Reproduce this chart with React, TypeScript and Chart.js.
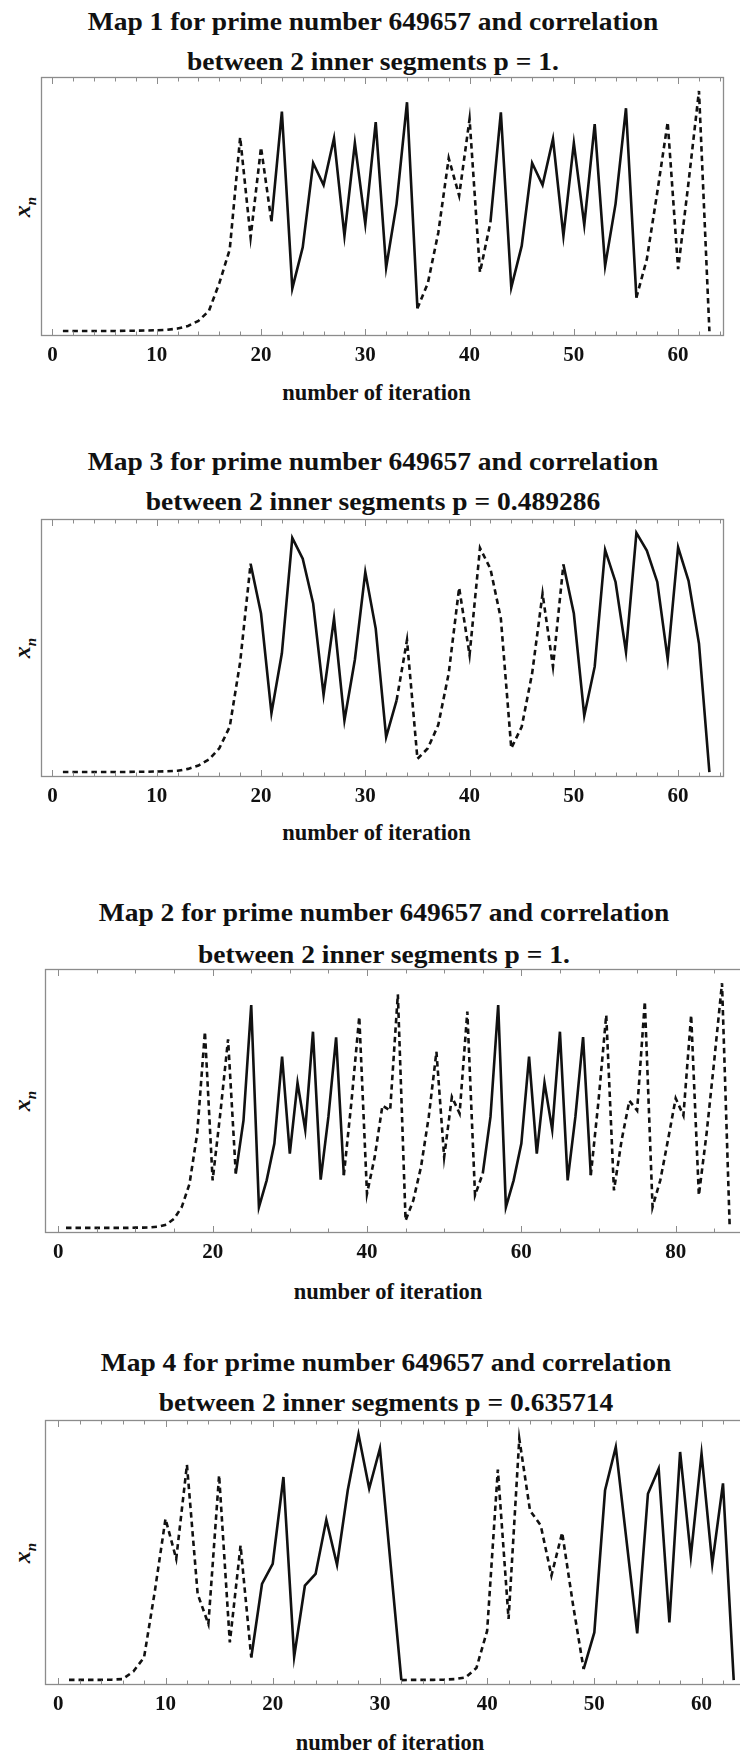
import React, { useEffect, useRef } from "react";
import { Chart, registerables } from "chart.js";

Chart.register(...registerables);

// ---------------- DATA ----------------
// Map 1 (iterations 1..63)
const MAP1_VALUES = [
  0.001, 0.001, 0.001, 0.001, 0.001, 0.001, 0.002, 0.002, 0.003, 0.004,
  0.006, 0.011, 0.022, 0.043, 0.084, 0.2, 0.34, 0.807, 0.39, 0.765,
  0.457, 0.914, 0.178, 0.349, 0.7, 0.608, 0.803, 0.397, 0.783, 0.446,
  0.87, 0.265, 0.53, 0.953, 0.095, 0.2, 0.41, 0.72, 0.564, 0.883,
  0.245, 0.453, 0.911, 0.182, 0.355, 0.7, 0.608, 0.8, 0.397, 0.783,
  0.442, 0.862, 0.272, 0.53, 0.928, 0.14, 0.3, 0.578, 0.87, 0.258,
  0.62, 1.0, 0.0,
];
const MAP1_SOLID = [[21, 35], [42, 56]];

// Map 3 (iterations 1..63)
const MAP3_VALUES = [
  0.001, 0.001, 0.001, 0.001, 0.001, 0.001, 0.001, 0.002, 0.002, 0.003,
  0.004, 0.006, 0.014, 0.028, 0.053, 0.1, 0.19, 0.46, 0.871, 0.663,
  0.247, 0.497, 0.979, 0.892, 0.705, 0.323, 0.642, 0.216, 0.47, 0.836,
  0.6, 0.147, 0.3, 0.552, 0.056, 0.1, 0.198, 0.413, 0.771, 0.49,
  0.937, 0.85, 0.642, 0.1, 0.19, 0.413, 0.746, 0.441, 0.868, 0.663,
  0.236, 0.441, 0.929, 0.795, 0.503, 1.0, 0.926, 0.795, 0.472, 0.94,
  0.8, 0.538, 0.0,
];
const MAP3_SOLID = [[19, 33], [49, 63]];

// Map 2 (iterations 1..87)
const MAP2_VALUES = [
  0.001, 0.001, 0.001, 0.001, 0.001, 0.001, 0.001, 0.001, 0.001, 0.002,
  0.002, 0.003, 0.006, 0.014, 0.038, 0.086, 0.18, 0.386, 0.802, 0.195,
  0.47, 0.771, 0.223, 0.44, 0.911, 0.086, 0.195, 0.345, 0.7, 0.304,
  0.593, 0.402, 0.802, 0.198, 0.454, 0.779, 0.216, 0.52, 0.863, 0.14,
  0.29, 0.5, 0.48, 0.955, 0.031, 0.113, 0.25, 0.454, 0.72, 0.29,
  0.536, 0.468, 0.884, 0.134, 0.223, 0.454, 0.911, 0.086, 0.195, 0.345,
  0.7, 0.304, 0.593, 0.402, 0.802, 0.195, 0.454, 0.78, 0.216, 0.52,
  0.87, 0.154, 0.36, 0.52, 0.48, 0.925, 0.086, 0.195, 0.36, 0.53,
  0.46, 0.87, 0.134, 0.386, 0.686, 1.0, 0.0,
];
const MAP2_SOLID = [[23, 37], [55, 69]];

// Map 4 (iterations 1..63)
const MAP4_VALUES = [
  0.001, 0.001, 0.001, 0.001, 0.002, 0.004, 0.035, 0.092, 0.36, 0.656,
  0.493, 0.876, 0.35, 0.228, 0.833, 0.153, 0.547, 0.092, 0.391, 0.473,
  0.826, 0.095, 0.384, 0.432, 0.652, 0.469, 0.772, 1.0, 0.779, 0.942,
  0.47, 0.0, 0.001, 0.001, 0.001, 0.002, 0.004, 0.011, 0.049, 0.2,
  0.856, 0.249, 0.982, 0.69, 0.629, 0.425, 0.6, 0.31, 0.045, 0.194,
  0.772, 0.948, 0.568, 0.19, 0.758, 0.86, 0.235, 0.928, 0.503, 0.921,
  0.473, 0.8, 0.0,
];
const MAP4_SOLID = [[18, 32], [49, 63]];

const TICKS_64 = [0, 10, 20, 30, 40, 50, 60];
const TICKS_88 = [0, 20, 40, 60, 80];

const TITLE_1 = ["Map 1 for prime number 649657 and correlation", "between 2 inner segments p = 1."];
const TITLE_3 = ["Map 3 for prime number 649657 and correlation", "between 2 inner segments p = 0.489286"];
const TITLE_2 = ["Map 2 for prime number 649657 and correlation", "between 2 inner segments p = 1."];
const TITLE_4 = ["Map 4 for prime number 649657 and correlation", "between 2 inner segments p = 0.635714"];

const X_LABEL = "number of iteration";

// ---------------- STYLE / LAYOUT ----------------
const SERIF = '"Liberation Serif", "Times New Roman", Times, serif';
const DASH = [5.5, 4];
const Y_MIN = -0.02;
const Y_MAX = 1.058;
const PAD_T = 6;
const AXIS_H = 72;
const TITLE_SHIFT = -10;
const XLABEL_SHIFT = -6;

type Panel = {
  title: string[];
  values: number[];
  solid: number[][];
  ticks: number[];
  minorStep: number;
  majorStep: number;
  xMin: number;
  xMax: number;
  left: number;
  right: number;
  top: number;
  bottom: number;
  titleY: number[];
  xLabelY: number;
  canvasW: number;
};

const PANELS: Panel[] = [
  { title: TITLE_1, values: MAP1_VALUES, solid: MAP1_SOLID, ticks: TICKS_64, minorStep: 2, majorStep: 10,
    xMin: -1.1, xMax: 64.4, left: 41, right: 724, top: 77, bottom: 336, titleY: [22, 62], xLabelY: 393, canvasW: 740 },
  { title: TITLE_3, values: MAP3_VALUES, solid: MAP3_SOLID, ticks: TICKS_64, minorStep: 2, majorStep: 10,
    xMin: -1.1, xMax: 64.4, left: 41, right: 724, top: 519, bottom: 777, titleY: [462, 502], xLabelY: 833, canvasW: 740 },
  { title: TITLE_2, values: MAP2_VALUES, solid: MAP2_SOLID, ticks: TICKS_88, minorStep: 5, majorStep: 20,
    xMin: -1.72, xMax: 88.72, left: 45, right: 743, top: 969, bottom: 1233, titleY: [913, 955], xLabelY: 1292, canvasW: 760 },
  { title: TITLE_4, values: MAP4_VALUES, solid: MAP4_SOLID, ticks: TICKS_64, minorStep: 2, majorStep: 10,
    xMin: -1.24, xMax: 64.24, left: 45, right: 747, top: 1420, bottom: 1685, titleY: [1363, 1403], xLabelY: 1743, canvasW: 760 },
];

function inSolid(ranges: number[][], x0: number, x1: number) {
  return ranges.some(([a, b]) => x0 >= a && x1 <= b);
}

const framePlugin = {
  id: "frameTicks",
  afterDatasetsDraw(chart: any, _args: any, opts: any) {
    const { ctx, chartArea: a } = chart;
    const xs = chart.scales.x;
    ctx.save();
    ctx.strokeStyle = "#8c8c8c";
    ctx.lineWidth = 1.3;
    ctx.strokeRect(a.left + 0.5, a.top + 0.5, a.right - a.left - 1, a.bottom - a.top - 1);
    ctx.lineWidth = 1;
    const step = opts.minorStep;
    const major = opts.majorStep;
    const start = Math.ceil(xs.min / step) * step;
    ctx.beginPath();
    for (let v = start; v <= xs.max + 1e-9; v += step) {
      const px = Math.round(xs.getPixelForValue(v)) + 0.5;
      const isMajor = Math.abs(v / major - Math.round(v / major)) < 1e-6;
      const len = isMajor ? 6 : 3.5;
      ctx.moveTo(px, a.top + 1);
      ctx.lineTo(px, a.top + 1 + len);
      ctx.moveTo(px, a.bottom - 1);
      ctx.lineTo(px, a.bottom - 1 - len);
    }
    ctx.stroke();
    ctx.restore();
  },
};

function MapPanel({ p }: { p: Panel }) {
  const ref = useRef<HTMLCanvasElement>(null);
  const canvasH = PAD_T + (p.bottom - p.top) + AXIS_H;

  useEffect(() => {
    if (!ref.current) return;
    const chart = new Chart(ref.current, {
      type: "line",
      data: {
        datasets: [
          {
            data: p.values.map((y, i) => ({ x: i + 1, y })),
            borderColor: "#111",
            borderWidth: 2.6,
            pointRadius: 0,
            tension: 0,
            fill: false,
            segment: {
              borderDash: (ctx: any) =>
                inSolid(p.solid, ctx.p0.parsed.x, ctx.p1.parsed.x) ? [] : DASH,
            },
          } as any,
        ],
      },
      options: {
        responsive: false,
        maintainAspectRatio: false,
        animation: false,
        events: [],
        layout: { padding: { left: p.left, right: p.canvasW - p.right, top: PAD_T, bottom: 0 } },
        plugins: {
          legend: { display: false },
          tooltip: { enabled: false },
          title: { display: false },
          frameTicks: { minorStep: p.minorStep, majorStep: p.majorStep },
        } as any,
        scales: {
          x: {
            type: "linear",
            min: p.xMin,
            max: p.xMax,
            afterBuildTicks: (s: any) => {
              s.ticks = p.ticks.map((v) => ({ value: v }));
            },
            afterFit: (s: any) => {
              s.height = AXIS_H;
            },
            grid: { display: false, drawTicks: false },
            border: { display: false },
            ticks: {
              autoSkip: false,
              maxRotation: 0,
              padding: 7.4,
              color: "#111",
              font: { family: SERIF, size: 21, weight: "bold" },
              callback: (v: any) => String(v),
            },
            title: { display: false },
          } as any,
          y: { display: false, min: Y_MIN, max: Y_MAX },
        },
      },
      plugins: [framePlugin],
    });
    return () => chart.destroy();
  }, [p]);

  const center = (p.left + p.right) / 2;

  const titleStyle = (y: number): React.CSSProperties => ({
    position: "absolute",
    left: center + TITLE_SHIFT - 350,
    width: 700,
    top: y - 15,
    height: 30,
    lineHeight: "30px",
    textAlign: "center",
    fontFamily: SERIF,
    fontWeight: "bold",
    fontSize: 25,
    color: "#111",
    whiteSpace: "nowrap",
    transform: "scaleX(1.1)",
    transformOrigin: "center",
  });

  const midY = (p.top + p.bottom) / 2;

  return (
    <>
      <div style={titleStyle(p.titleY[0])}>{p.title[0]}</div>
      <div style={titleStyle(p.titleY[1])}>{p.title[1]}</div>
      <div
        style={{
          position: "absolute",
          left: center + XLABEL_SHIFT - 200,
          width: 400,
          top: p.xLabelY - 15,
          height: 30,
          lineHeight: "30px",
          textAlign: "center",
          fontFamily: SERIF,
          fontWeight: "bold",
          fontSize: 22.5,
          color: "#111",
          whiteSpace: "nowrap",
        }}
      >
        {X_LABEL}
      </div>
      <div
        style={{
          position: "absolute",
          left: 22 - 30,
          top: midY - 15,
          width: 60,
          height: 30,
          lineHeight: "30px",
          textAlign: "center",
          fontFamily: SERIF,
          fontStyle: "italic",
          fontWeight: "bold",
          fontSize: 24,
          color: "#111",
          transform: "rotate(-90deg)",
        }}
      >
        x<sub style={{ fontSize: 15 }}>n</sub>
      </div>
      <canvas
        ref={ref}
        width={p.canvasW}
        height={canvasH}
        style={{
          position: "absolute",
          left: 0,
          top: p.top - PAD_T,
          width: p.canvasW,
          height: canvasH,
        }}
      />
    </>
  );
}

export default function App() {
  return (
    <div
      style={{
        position: "absolute",
        left: 0,
        top: 0,
        width: 740,
        height: 1755,
        overflow: "hidden",
        background: "#ffffff",
      }}
    >
      {PANELS.map((p, i) => (
        <MapPanel key={i} p={p} />
      ))}
    </div>
  );
}
